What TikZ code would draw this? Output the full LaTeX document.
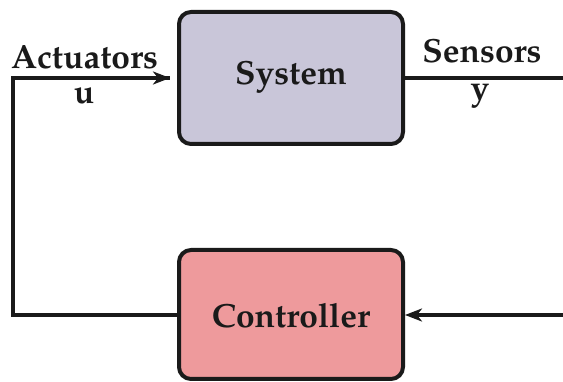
\documentclass[tikz,border=0pt]{standalone}
\usepackage[T1]{fontenc}
\usepackage{mathpazo}
\usetikzlibrary{arrows.meta}
\definecolor{sysfill}{HTML}{C9C6D9}
\definecolor{ctlfill}{HTML}{EE9A9C}
\definecolor{ink}{HTML}{1A1A1A}
\tikzset{
  block/.style={draw=ink, line width=4pt, rounded corners=12pt,
    minimum width=224pt, inner sep=0pt},
  wire/.style={draw=ink, line width=3.5pt},
  tip/.style={-{Stealth[length=17pt,width=13pt,inset=5pt]}},
  lbl/.style={anchor=base, inner sep=0pt, text=ink,
    font=\fontsize{33.5}{38}\selectfont\bfseries},
}
\begin{document}
\begin{tikzpicture}[x=1pt,y=-1pt]
  \useasboundingbox (0,0) rectangle (563,382);
  \clip (0,0) rectangle (563,382);

  % blocks
  \node[block, fill=sysfill, minimum height=132pt] (sys) at (291,78) {};
  \node[lbl] (systxt) at (291,85) {System};
  \node[block, fill=ctlfill, minimum height=129pt] (ctl) at (291,314.5) {};
  \node[lbl] (ctltxt) at (291,328) {Controller};

  % loop corners and open ends
  \coordinate (tl) at (13,78);
  \coordinate (bl) at (13,315);
  \coordinate (yout) at (565,78);
  \coordinate (yin) at (565,315);
  \coordinate (uin) at ([xshift=-7pt]sys.west);

  % connectors
  \draw[wire, line cap=butt, line join=miter] (ctl.west |- bl) -- (bl) -- (tl) -- (uin |- tl);
  \draw[wire, tip] (tl) -- (uin);
  \draw[wire] (sys.east) -- (yout);
  \draw[wire, tip] (yin) -- (ctl.east |- yin);

  % signal labels
  \node[lbl] (act) at (84.5,69) {Actuators};
  \node[lbl] (u) at (84,104) {u};
  \node[lbl] (sen) at (482,63) {Sensors};
  \node[lbl] (y) at (480,100) {y};
\end{tikzpicture}
\end{document}
